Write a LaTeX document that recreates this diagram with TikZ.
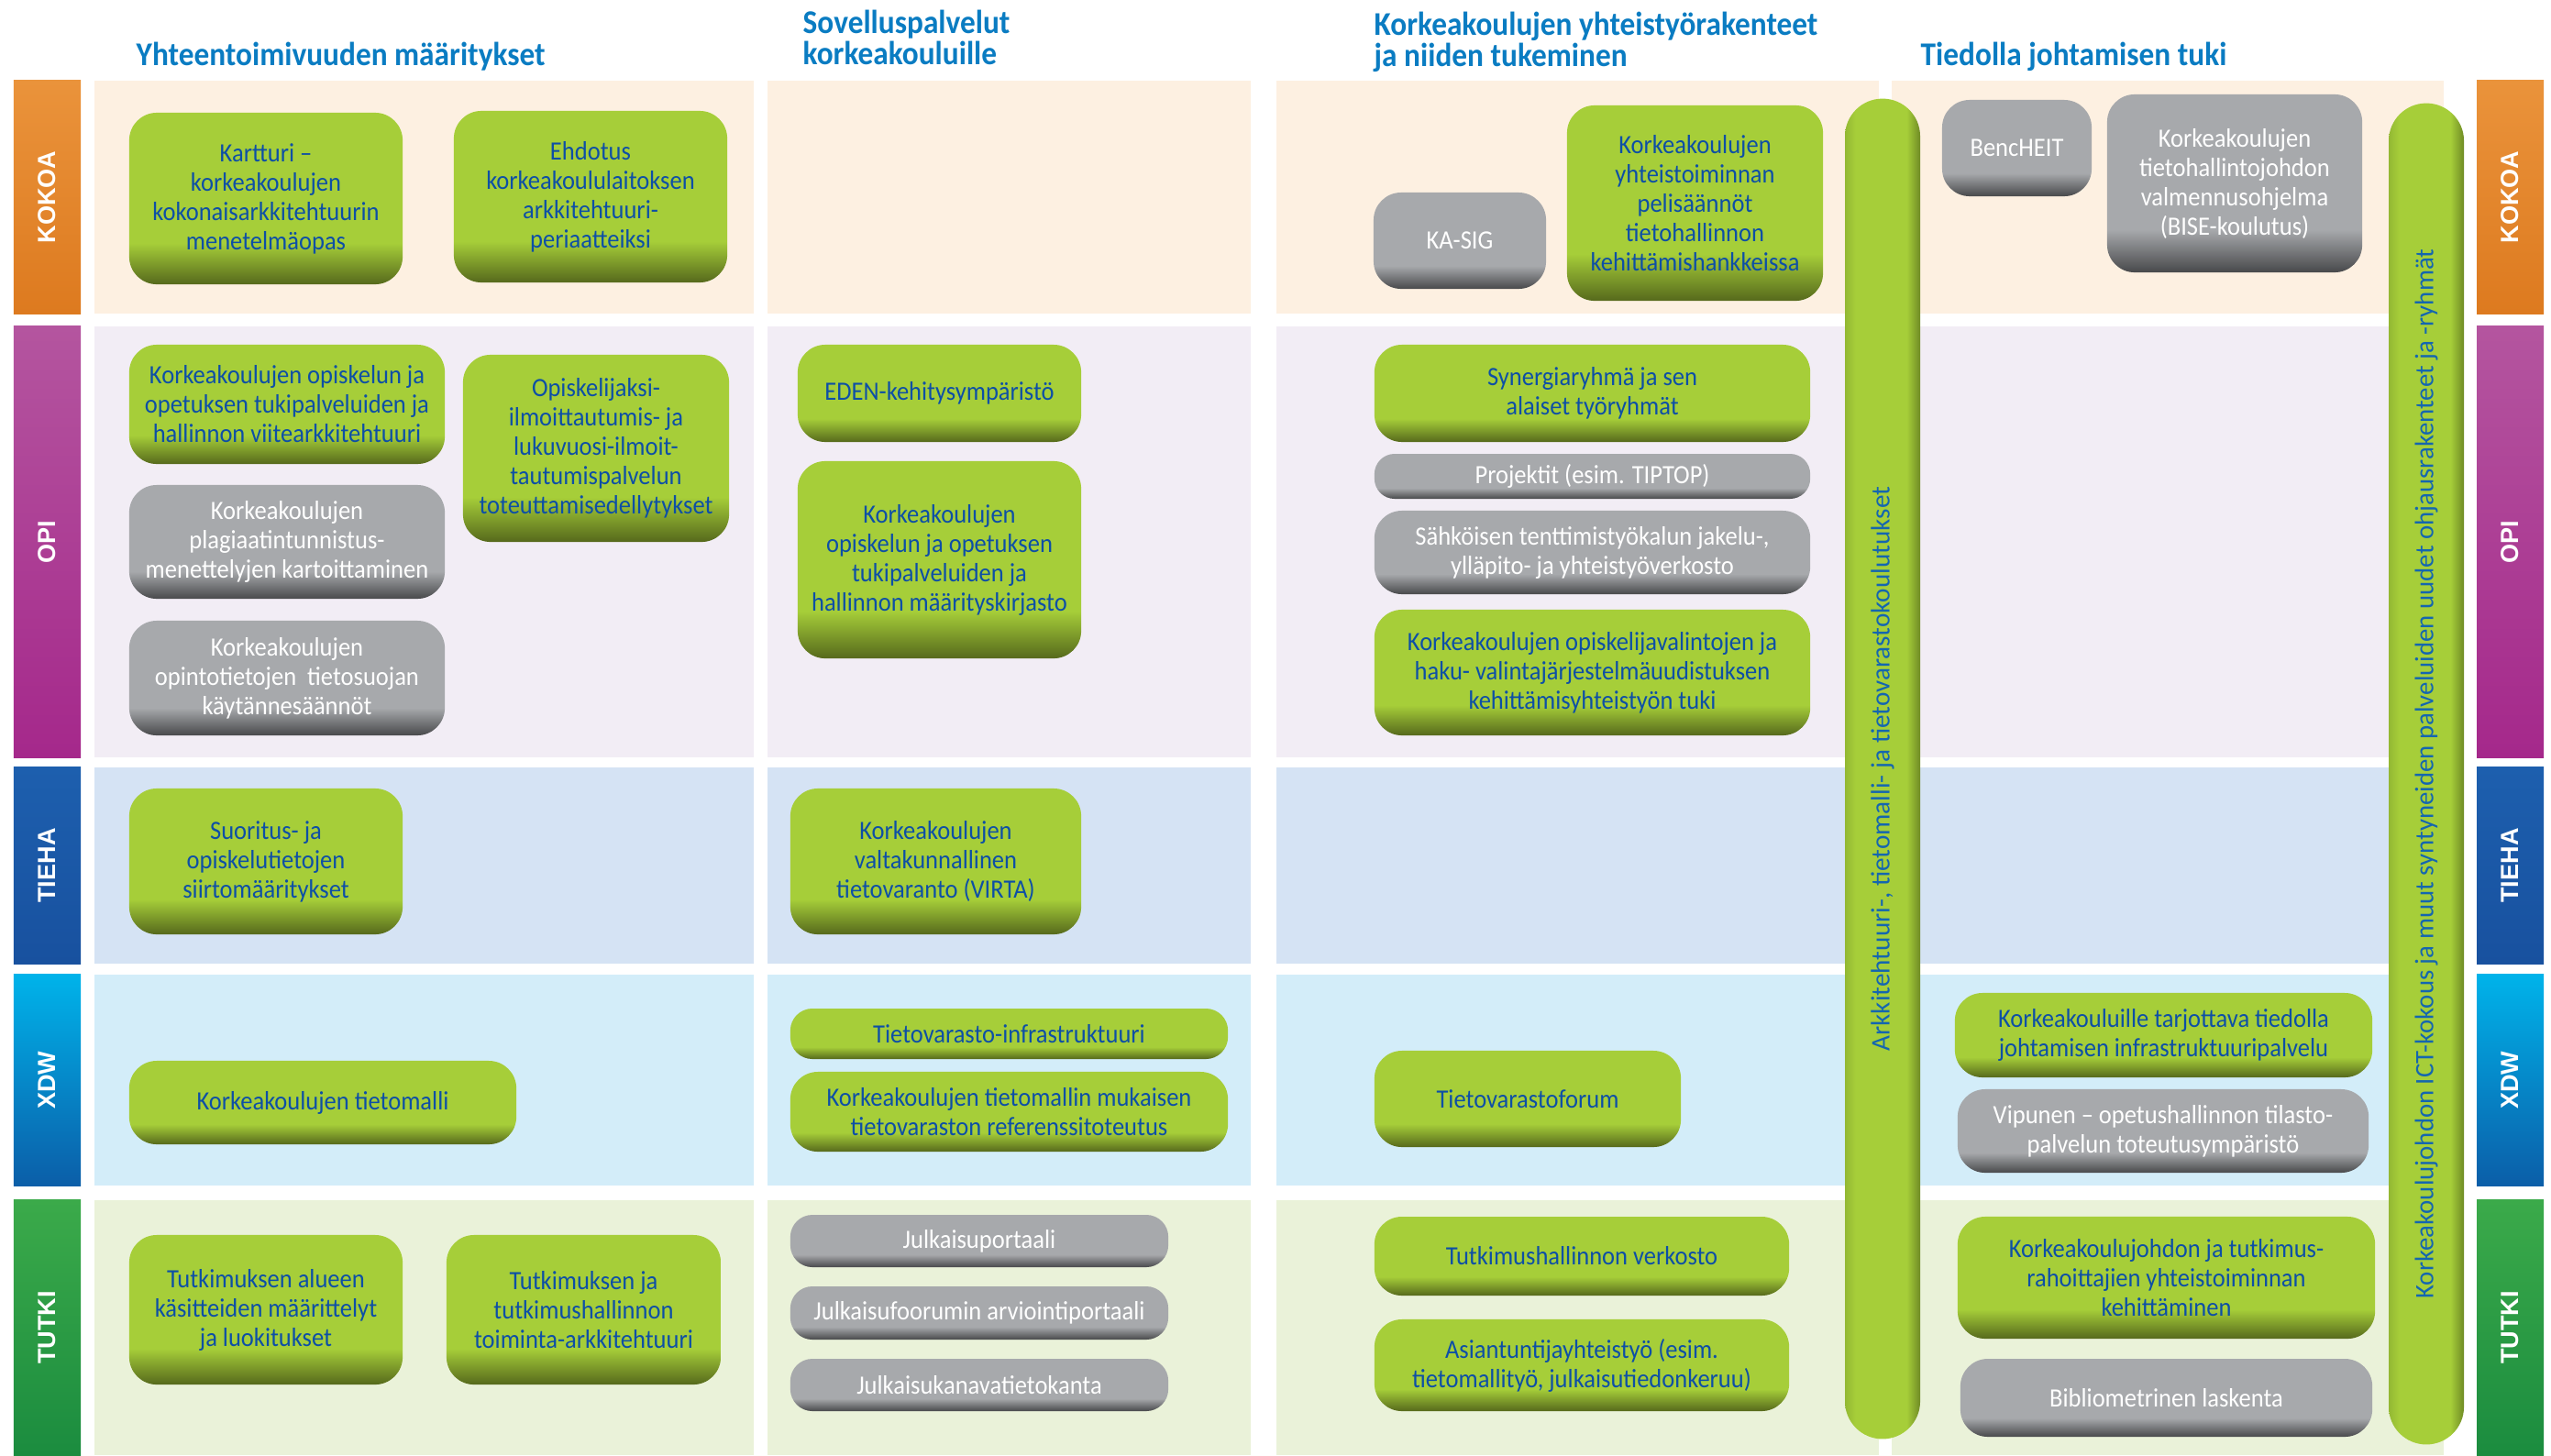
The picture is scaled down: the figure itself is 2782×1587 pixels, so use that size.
\documentclass[tikz,border=0pt]{standalone}
\usepackage{fontspec}
\usepackage{graphicx}
\setmainfont{Carlito}[FakeStretch=0.92]
\newfontfamily\tabfont{Liberation Sans}
\newfontfamily\barfont{Carlito}

% backgrounds of the rows
\definecolor{bgkokoa}{HTML}{FDF0E1}
\definecolor{bgopi}{HTML}{F2EDF5}
\definecolor{bgtieha}{HTML}{D5E3F4}
\definecolor{bgxdw}{HTML}{D3EDF9}
\definecolor{bgtutki}{HTML}{EAF2D9}
% boxes
\definecolor{gmain}{HTML}{A6CE39}
\definecolor{gdark}{HTML}{56691C}
\definecolor{gbarl}{HTML}{93B833}
\definecolor{gbarr}{HTML}{6F8B25}
\definecolor{ymain}{HTML}{A7A9AC}
\definecolor{ydark}{HTML}{48494B}
\definecolor{boxblue}{HTML}{0D4FA6}
\definecolor{titleblue}{HTML}{0A7CC2}
\definecolor{barblue}{HTML}{1466B0}
% label bars
\definecolor{kokoatop}{HTML}{EA933B}
\definecolor{kokoabot}{HTML}{DD7A1F}
\definecolor{opitop}{HTML}{B4559F}
\definecolor{opibot}{HTML}{A5288B}
\definecolor{tiehatop}{HTML}{1D5FAE}
\definecolor{tiehabot}{HTML}{18519F}
\definecolor{xdwtop}{HTML}{00B3EA}
\definecolor{xdwbot}{HTML}{0B5EA8}
\definecolor{tutkitop}{HTML}{3BAA4A}
\definecolor{tutkibot}{HTML}{1B8C3F}

\pgfdeclareverticalshading{greenbox}{100bp}{color(0bp)=(gdark); color(25bp)=(gdark); color(37bp)=(gmain); color(100bp)=(gmain)}
\pgfdeclareverticalshading{graybox}{100bp}{color(0bp)=(ydark); color(25bp)=(ydark); color(37bp)=(ymain); color(100bp)=(ymain)}
\pgfdeclarehorizontalshading{greenbar}{100bp}{color(0bp)=(gbarl); color(25bp)=(gbarl); color(32bp)=(gmain); color(66bp)=(gmain); color(75bp)=(gbarr); color(100bp)=(gbarr)}
\pgfdeclareverticalshading{labkokoa}{100bp}{color(0bp)=(kokoabot); color(25bp)=(kokoabot); color(75bp)=(kokoatop); color(100bp)=(kokoatop)}
\pgfdeclareverticalshading{labopi}{100bp}{color(0bp)=(opibot); color(25bp)=(opibot); color(75bp)=(opitop); color(100bp)=(opitop)}
\pgfdeclareverticalshading{labtieha}{100bp}{color(0bp)=(tiehabot); color(25bp)=(tiehabot); color(75bp)=(tiehatop); color(100bp)=(tiehatop)}
\pgfdeclareverticalshading{labxdw}{100bp}{color(0bp)=(xdwbot); color(25bp)=(xdwbot); color(75bp)=(xdwtop); color(100bp)=(xdwtop)}
\pgfdeclareverticalshading{labtutki}{100bp}{color(0bp)=(tutkibot); color(25bp)=(tutkibot); color(75bp)=(tutkitop); color(100bp)=(tutkitop)}

\tikzset{
  box/.style={rounded corners=0.3cm, inner sep=0pt, align=center, shade,
    font=\fontsize{8.2}{9.1}\selectfont},
  gbox/.style={box, shading=greenbox, text=boxblue},
  ybox/.style={box, shading=graybox, text=white},
  bar/.style={rounded corners=0.41cm, inner sep=0pt, shade, shading=greenbar,
    minimum width=0.82cm, text=barblue, font=\barfont\fontsize{8.3}{9}\selectfont},
  lab/.style={inner sep=0pt, shade, minimum width=0.73cm, text=white,
    font=\tabfont\bfseries\fontsize{7.7}{9}\selectfont},
  title/.style={inner sep=0pt, text=titleblue, anchor=base west, align=left,
    font=\bfseries\fontsize{10.3}{9.6}\selectfont}
}

\begin{document}
\begin{tikzpicture}[x=0.01cm, y=-0.01cm]
\useasboundingbox (0,0) rectangle (2782,1587);
\fill[white] (0,0) rectangle (2782,1587);

% rows, columns and the labels at both ends
\foreach \n/\t/\ya/\yb in {kokoa/KOKOA/88/342, opi/OPI/356/826, tieha/TIEHA/837/1051,
    xdw/XDW/1063/1293, tutki/TUTKI/1309/1587}{
  \foreach \xa/\xb in {103/822, 837/1364, 1392/2049, 2063/2665}
    \fill[bg\n] (\xa,\ya) rectangle (\xb,\yb);
  \pgfmathsetmacro\h{(\yb-\ya)/100}
  \pgfmathsetmacro\ym{(\ya+\yb)/2}
  \node[lab, shading=lab\n, minimum height=\h cm] (\n-left) at (51.5,\ym) {\rotatebox{90}{\t}};
  \node[lab, shading=lab\n, minimum height=\h cm] (\n-right) at (2737.5,\ym) {\rotatebox{90}{\t}};
}

% column titles
\node[title] (t-yht) at (148,71) {Yhteentoimivuuden määritykset};
\node[title] (t-sov) at (875,70) {Sovelluspalvelut\\korkeakouluille};
\node[title] (t-yhteistyo) at (1498,72) {Korkeakoulujen yhteistyörakenteet\\ja niiden tukeminen};
\node[title] (t-tieto) at (2094,71) {Tiedolla johtamisen tuki};

% KOKOA
\node[gbox, minimum width=2.98cm, minimum height=1.87cm] (kartturi) at (290,216.5)
  {Kartturi --\\korkeakoulujen\\kokonaisarkkitehtuurin\\menetelmäopas};
\node[gbox, minimum width=2.98cm, minimum height=1.87cm] (ehdotus) at (644,214.5)
  {Ehdotus\\korkeakoululaitoksen\\arkkitehtuuri-\\periaatteiksi};
\node[ybox, minimum width=1.88cm, minimum height=1.05cm] (kasig) at (1592,262.5) {KA-SIG};
\node[gbox, minimum width=2.79cm, minimum height=2.13cm] (pelisaannot) at (1848.5,221.5)
  {Korkeakoulujen\\yhteistoiminnan\\pelisäännöt\\tietohallinnon\\kehittämishankkeissa};
\node[ybox, minimum width=1.63cm, minimum height=1.05cm] (bencheit) at (2199.5,161.5) {BencHEIT};
\node[ybox, minimum width=2.78cm, minimum height=1.94cm] (bise) at (2437,200)
  {Korkeakoulujen\\tietohallintojohdon\\valmennusohjelma\\(BISE-koulutus)};

% OPI
\node[gbox, minimum width=3.44cm, minimum height=1.30cm] (viitearkk) at (313,441)
  {Korkeakoulujen opiskelun ja\\opetuksen tukipalveluiden ja\\hallinnon viitearkkitehtuuri};
\node[gbox, minimum width=2.90cm, minimum height=2.04cm] (ilmoitt) at (650,489)
  {Opiskelijaksi-\\ilmoittautumis- ja\\lukuvuosi-ilmoit-\\tautumispalvelun\\toteuttamisedellytykset};
\node[ybox, minimum width=3.44cm, minimum height=1.24cm] (plagiaatti) at (313,591)
  {Korkeakoulujen\\plagiaatintunnistus-\\menettelyjen kartoittaminen};
\node[ybox, minimum width=3.44cm, minimum height=1.25cm] (tietosuoja) at (313,739.5)
  {Korkeakoulujen\\opintotietojen\ \ tietosuojan\\käytännesäännöt};
\node[gbox, minimum width=3.09cm, minimum height=1.06cm] (eden) at (1024.5,429) {EDEN-kehitysympäristö};
\node[gbox, minimum width=3.09cm, minimum height=2.15cm] (maarkirj) at (1024.5,610.5)
  {Korkeakoulujen\\opiskelun ja opetuksen\\tukipalveluiden ja\\hallinnon määrityskirjasto};
\node[gbox, minimum width=4.75cm, minimum height=1.06cm] (synergia) at (1736.5,429)
  {Synergiaryhmä ja sen\\alaiset työryhmät};
\node[ybox, rounded corners=0.22cm, minimum width=4.75cm, minimum height=0.49cm] (projektit) at (1736.5,519.5)
  {Projektit (esim. TIPTOP)};
\node[ybox, minimum width=4.75cm, minimum height=0.91cm] (tentti) at (1736.5,602.5)
  {Sähköisen tenttimistyökalun jakelu-,\\ylläpito- ja yhteistyöverkosto};
\node[gbox, minimum width=4.75cm, minimum height=1.37cm] (valinta) at (1736.5,733.5)
  {Korkeakoulujen opiskelijavalintojen ja\\haku- valintajärjestelmäuudistuksen\\kehittämisyhteistyön tuki};

% TIEHA
\node[gbox, minimum width=2.98cm, minimum height=1.59cm] (siirto) at (290,939.5)
  {Suoritus- ja\\opiskelutietojen\\siirtomääritykset};
\node[gbox, minimum width=3.17cm, minimum height=1.59cm] (virta) at (1020.5,939.5)
  {Korkeakoulujen\\valtakunnallinen\\tietovaranto (VIRTA)};

% XDW
\node[gbox, minimum width=4.22cm, minimum height=0.91cm] (tietomalli) at (352,1202.5) {Korkeakoulujen tietomalli};
\node[gbox, rounded corners=0.24cm, minimum width=4.77cm, minimum height=0.55cm] (infra) at (1100.5,1127.5)
  {Tietovarasto-infrastruktuuri};
\node[gbox, minimum width=4.77cm, minimum height=0.87cm] (referenssi) at (1100.5,1212.5)
  {Korkeakoulujen tietomallin mukaisen\\tietovaraston referenssitoteutus};
\node[gbox, minimum width=3.34cm, minimum height=1.05cm] (forum) at (1666,1198.5) {Tietovarastoforum};
\node[gbox, minimum width=4.55cm, minimum height=0.92cm] (tljinfra) at (2359.5,1129)
  {Korkeakouluille tarjottava tiedolla\\johtamisen infrastruktuuripalvelu};
\node[ybox, minimum width=4.48cm, minimum height=0.91cm] (vipunen) at (2359,1233.5)
  {Vipunen -- opetushallinnon tilasto-\\palvelun toteutusympäristö};

% TUTKI
\node[gbox, minimum width=2.98cm, minimum height=1.63cm] (kasitteet) at (290,1428.5)
  {Tutkimuksen alueen\\käsitteiden määrittelyt\\ja luokitukset};
\node[gbox, minimum width=2.99cm, minimum height=1.63cm] (toiminta) at (636.5,1428.5)
  {Tutkimuksen ja\\tutkimushallinnon\\toiminta-arkkitehtuuri};
\node[ybox, rounded corners=0.24cm, minimum width=4.12cm, minimum height=0.57cm] (portaali) at (1068,1353.5)
  {Julkaisuportaali};
\node[ybox, rounded corners=0.24cm, minimum width=4.12cm, minimum height=0.58cm] (foorumi) at (1068,1432)
  {Julkaisufoorumin arviointiportaali};
\node[ybox, rounded corners=0.24cm, minimum width=4.12cm, minimum height=0.57cm] (kanava) at (1068,1510.5)
  {Julkaisukanavatietokanta};
\node[gbox, minimum width=4.52cm, minimum height=0.86cm] (tutkverkosto) at (1725,1370)
  {Tutkimushallinnon verkosto};
\node[gbox, minimum width=4.52cm, minimum height=1.00cm] (asiantuntija) at (1725,1489)
  {Asiantuntijayhteistyö (esim.\\tietomallityö, julkaisutiedonkeruu)};
\node[gbox, minimum width=4.55cm, minimum height=1.33cm] (rahoittajat) at (2362.5,1393.5)
  {Korkeakoulujohdon ja tutkimus-\\rahoittajien yhteistoiminnan\\kehittäminen};
\node[ybox, minimum width=4.49cm, minimum height=0.85cm] (biblio) at (2362.5,1524.5)
  {Bibliometrinen laskenta};

% the two long bars
\node[bar, minimum height=14.61cm] (arkbar) at (2053,838.5)
  {\rotatebox{90}{Arkkitehtuuri-, tietomalli- ja tietovarastokoulutukset}};
\node[bar, minimum height=14.62cm, font=\barfont\fontsize{8.2}{9}\selectfont] (ictbar) at (2646,844)
  {\rotatebox{90}{Korkeakoulujohdon ICT-kokous ja muut syntyneiden palveluiden uudet ohjausrakenteet ja -ryhmät}};
\end{tikzpicture}
\end{document}
